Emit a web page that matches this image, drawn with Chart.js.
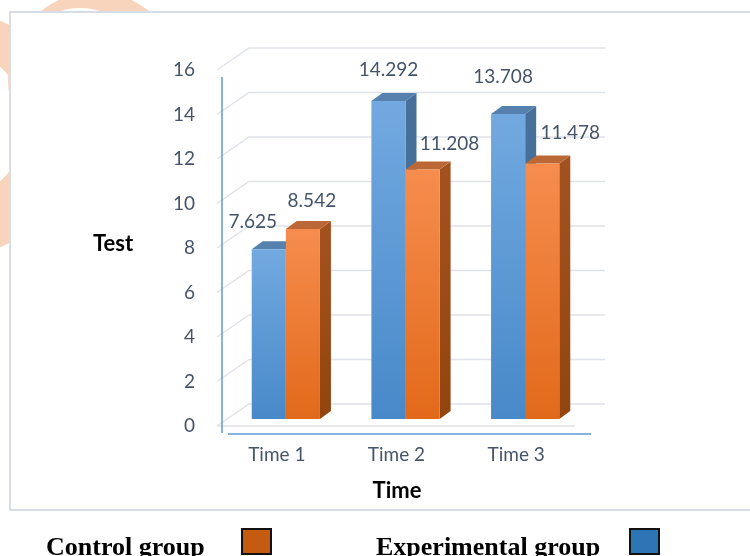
<!DOCTYPE html>
<html>
<head>
<meta charset="utf-8">
<script src="https://cdn.jsdelivr.net/npm/chart.js@4.4.1/dist/chart.umd.min.js"></script>
<style>
  html, body { margin: 0; padding: 0; background: #ffffff; }
  #wrap { position: relative; width: 750px; height: 556px; overflow: hidden; }
  canvas { position: absolute; left: 0; top: 0; }
  .leg { position: absolute; font-family: "Liberation Serif", "Times New Roman", serif; font-weight: bold; font-size: 26px; color: #000; white-space: nowrap; line-height: 1; }
  .sw { position: absolute; width: 27px; height: 23px; border: 2px solid #111; }
</style>
</head>
<body>
<div id="wrap">
  <canvas id="c" width="750" height="556"></canvas>
  <div class="leg" style="left:46px; top:534px;">Control group</div>
  <div class="sw" style="left:241px; top:528px; background:#c55a11;"></div>
  <div class="leg" style="left:376px; top:534px;">Experimental group</div>
  <div class="sw" style="left:629px; top:528px; background:#2e75b6;"></div>
</div>
<script>
// ---- data ----
const categories = ['Time 1', 'Time 2', 'Time 3'];
const experimentalGroup = [7.625, 14.292, 13.708];
const controlGroup = [8.542, 11.208, 11.478];
const yTickValues = [0, 2, 4, 6, 8, 10, 12, 14, 16];
const seriesNames = ['Experimental group', 'Control group'];
const yTitle = 'Test';
const xTitle = 'Time';

// ---- styling ----
const FONT = 'Lato, "Open Sans", sans-serif';
const TEXT = '#44546a';
const DEPTH_X = 11, DEPTH_Y = -8;
const styles = [
  { top: '#72a9e0', bottom: '#4889c9', sideTop: '#47709b', sideBot: '#3e6794', cap: '#5680ae' },
  { top: '#f68d4e', bottom: '#e2691a', sideTop: '#a3521f', sideBot: '#92450f', cap: '#bc6736' }
];
// label placement nudges relative to bar (dx from bar centre, dy from bar top)
const labelNudge = [
  [[-16, -27], [0, -31], [-5, -37]],
  [[9, -28], [27, -26], [28, -31]]
];

function frontGradient(ctx, dsIndex) {
  const chart = ctx.chart;
  const ys = chart.scales.y;
  const st = styles[dsIndex];
  if (!ys || typeof ctx.raw !== 'number') return st.top;
  const yTop = ys.getPixelForValue(ctx.raw);
  const yBase = ys.getPixelForValue(0);
  if (!isFinite(yTop) || !isFinite(yBase) || yTop === yBase) return st.top;
  const g = chart.ctx.createLinearGradient(0, yTop, 0, yBase);
  g.addColorStop(0, st.top);
  g.addColorStop(1, st.bottom);
  return g;
}

const decorPlugin = {
  id: 'decor',
  beforeDraw(chart) {
    const c = chart.ctx;
    c.save();
    // faint watermark rings outside frame
    c.fillStyle = '#f9d4bd';
    c.beginPath();
    c.arc(95, 78, 86, 0, Math.PI * 2);
    c.arc(80, 80, 72, 0, Math.PI * 2, true);
    c.fill();
    c.beginPath();
    c.arc(-50, 134, 124, 0, Math.PI * 2);
    c.arc(-50, 124, 76, 0, Math.PI * 2, true);
    c.fill();
    // frame
    c.fillStyle = '#ffffff';
    c.fillRect(10, 12, 760, 498);
    c.strokeStyle = '#d7dde6';
    c.lineWidth = 2;
    c.strokeRect(10, 12, 760, 498);
    c.restore();
  },
  beforeDatasetsDraw(chart) {
    const c = chart.ctx;
    const ys = chart.scales.y;
    const area = chart.chartArea;
    c.save();
    c.strokeStyle = '#dfe2e8';
    c.lineWidth = 1.3;
    const backLeft = area.left + 23, backRight = area.right + 20;
    const frontLeft = area.left - 9;
    yTickValues.forEach(v => {
      const y = ys.getPixelForValue(v);
      c.beginPath();
      c.moveTo(frontLeft, y + 7);
      c.lineTo(backLeft, y - 15);
      c.lineTo(backRight, y - 15);
      c.stroke();
    });
    // floor front edge
    const y0 = ys.getPixelForValue(0);
    c.beginPath();
    c.moveTo(frontLeft, y0 + 7);
    c.lineTo(area.right - 10, y0 + 7);
    c.stroke();
    // blue axis lines
    c.strokeStyle = '#5b9bd5';
    c.lineWidth = 1.5;
    c.beginPath();
    c.moveTo(area.left - 4, ys.getPixelForValue(16) + 14);
    c.lineTo(area.left - 4, y0 + 14);
    c.stroke();
    c.beginPath();
    c.moveTo(area.left + 2, y0 + 15);
    c.lineTo(area.right + 6, y0 + 15);
    c.stroke();

    // 3D top & side faces (drawn before fronts, in series order)
    const metas = [chart.getDatasetMeta(0), chart.getDatasetMeta(1)];
    for (let i = 0; i < categories.length; i++) {
      metas.forEach((meta, d) => {
        const el = meta.data[i];
        if (!el) return;
        const st = styles[d];
        const left = el.x - el.width / 2, right = el.x + el.width / 2;
        const top = el.y, base = el.base;
        const sg = c.createLinearGradient(0, top, 0, base);
        sg.addColorStop(0, st.sideTop);
        sg.addColorStop(1, st.sideBot);
        c.fillStyle = sg;
        c.beginPath();
        c.moveTo(right, top);
        c.lineTo(right + DEPTH_X, top + DEPTH_Y);
        c.lineTo(right + DEPTH_X, base + DEPTH_Y);
        c.lineTo(right, base);
        c.closePath();
        c.fill();
        c.fillStyle = st.cap;
        c.beginPath();
        c.moveTo(left, top);
        c.lineTo(left + DEPTH_X, top + DEPTH_Y);
        c.lineTo(right + DEPTH_X, top + DEPTH_Y);
        c.lineTo(right, top);
        c.closePath();
        c.fill();
      });
    }
    c.restore();
  },
  afterDatasetsDraw(chart) {
    const c = chart.ctx;
    c.save();
    c.fillStyle = TEXT;
    c.font = '19px ' + FONT;
    c.textAlign = 'center';
    c.textBaseline = 'middle';
    [experimentalGroup, controlGroup].forEach((vals, d) => {
      const meta = chart.getDatasetMeta(d);
      vals.forEach((v, i) => {
        const el = meta.data[i];
        const n = labelNudge[d][i];
        c.fillText(v.toFixed(3), el.x + n[0], el.y + n[1]);
      });
    });
    c.fillStyle = '#000000';
    c.font = 'bold 22px ' + FONT;
    c.fillText(yTitle, 113, 244);
    c.fillText(xTitle, 397, 491);
    c.restore();
  }
};

new Chart(document.getElementById('c'), {
  type: 'bar',
  data: {
    labels: categories,
    datasets: [
      { label: seriesNames[0], data: experimentalGroup, backgroundColor: ctx => frontGradient(ctx, 0), borderWidth: 0 },
      { label: seriesNames[1], data: controlGroup, backgroundColor: ctx => frontGradient(ctx, 1), borderWidth: 0 }
    ]
  },
  options: {
    responsive: false,
    animation: false,
    devicePixelRatio: 1,
    layout: { padding: { left: 100, right: 165, top: 63, bottom: 77 } },
    categoryPercentage: 0.57,
    barPercentage: 1.0,
    plugins: { legend: { display: false }, tooltip: { enabled: false }, title: { display: false } },
    scales: {
      x: {
        grid: { display: false, drawTicks: false, tickLength: 0 },
        border: { display: false },
        ticks: { color: TEXT, font: { family: FONT, size: 19 }, padding: 24, labelOffset: -9, maxRotation: 0 },
        afterFit: s => { s.height = 60; }
      },
      y: {
        min: yTickValues[0],
        max: yTickValues[yTickValues.length - 1],
        grid: { display: false, drawTicks: false, tickLength: 0 },
        border: { display: false },
        ticks: { stepSize: yTickValues[1] - yTickValues[0], color: TEXT, font: { family: FONT, size: 19 }, padding: 31, labelOffset: 7 },
        afterFit: s => { s.width = 126; }
      }
    }
  },
  plugins: [decorPlugin]
});
</script>
</body>
</html>
